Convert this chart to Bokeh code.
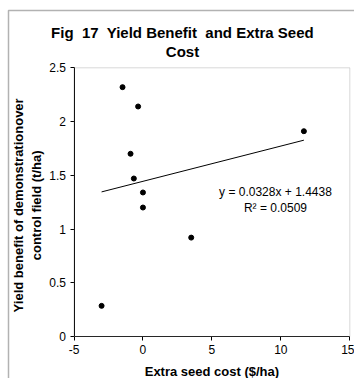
from bokeh.plotting import figure
from bokeh.models import Range1d, FixedTicker, Label, BoxAnnotation, LinearAxis
from bokeh.embed import file_html
from bokeh.resources import INLINE

# Extra seed cost ($/ha) versus yield benefit (t/ha) per demonstration site
seed_cost = [-1.48, -0.35, -0.9, -0.66, 0.0, 0.0, 3.5, -3.0, 11.67]
yield_benefit = [2.32, 2.14, 1.70, 1.47, 1.34, 1.20, 0.92, 0.285, 1.91]

# Linear trend line reported on the chart
slope = 0.0328
intercept = 1.4438
r_squared = 0.0509

x_ticks = [-5, 0, 5, 10, 15]
x_tick_labels = ["-5", "0", "5", "10", "15"]
y_ticks = [0, 0.5, 1, 1.5, 2, 2.5]
y_tick_labels = ["0", "0.5", "1", "1.5", "2", "2.5"]

FONT = "Liberation Sans"
W, H = 354, 378
NBSP = "\u00a0"

# The frame covers the whole canvas; the plot area (-5..15, 0..2.5) sits
# inside it with room around for the titles.
px_per_x = 13.79
px_per_y = 107.48
x_start = x_ticks[0] - 73.5 / px_per_x
y_start = y_ticks[0] - (H - 336) / px_per_y
x_range = Range1d(x_start, x_start + W / px_per_x)
y_range = Range1d(y_start, y_start + H / px_per_y)

p = figure(width=W, height=H, output_backend="svg", toolbar_location=None,
           x_range=x_range, y_range=y_range, min_border=0,
           x_axis_location=None, y_axis_location=None)
p.background_fill_color = "white"
p.border_fill_color = "white"
p.outline_line_color = None
p.xgrid.visible = False
p.ygrid.visible = False

xaxis = LinearAxis(fixed_location=y_ticks[0], bounds=(x_ticks[0], x_ticks[-1]))
yaxis = LinearAxis(fixed_location=x_ticks[0], bounds=(y_ticks[0], y_ticks[-1]))
for ax, ticks, labels in ((xaxis, x_ticks, x_tick_labels),
                          (yaxis, y_ticks, y_tick_labels)):
    ax.ticker = FixedTicker(ticks=ticks)
    ax.major_label_overrides = {t: s for t, s in zip(ticks, labels)}
    ax.minor_tick_line_color = None
    ax.major_tick_out = 4
    ax.major_tick_in = 0
    ax.axis_line_color = "black"
    ax.major_tick_line_color = "black"
    ax.major_label_text_font = FONT
    ax.major_label_text_font_size = "12px"
    ax.major_label_text_color = "black"
    ax.major_label_standoff = 4

# Plot area outline (grey on top and right)
p.add_layout(BoxAnnotation(left=x_ticks[0], right=x_ticks[-1],
                           bottom=y_ticks[0], top=y_ticks[-1],
                           fill_alpha=0, line_color="#808080", line_width=1))
p.add_layout(xaxis, "below")
p.add_layout(yaxis, "left")

# Trend line across the range of the data
x0, x1 = min(seed_cost), max(seed_cost)
p.line([x0, x1], [slope * x0 + intercept, slope * x1 + intercept],
       line_color="black", line_width=1)

p.scatter(seed_cost, yield_benefit, size=5, marker="circle",
          fill_color="black", line_color="black")


def add_text(x, y, text, size, bold=False, angle=0.0):
    p.add_layout(Label(x=x, y=y, text=text, text_font=FONT,
                       text_font_size=size,
                       text_font_style="bold" if bold else "normal",
                       text_align="center", text_baseline="middle",
                       angle=angle, text_color="black"))


# Title (wide gaps kept with no-break spaces)
title_1 = f"Fig{NBSP} 17{NBSP} Yield Benefit{NBSP} and Extra Seed"
add_text(2.87, 2.828, title_1, "15px", bold=True)
add_text(2.87, 2.654, "Cost", "15px", bold=True)

# Axis titles
add_text(5.0, -0.321, "Extra seed cost ($/ha)", "13px", bold=True)
add_text(-9.02, 1.22, "Yield benefit of demonstrationover", "13px", bold=True,
         angle=1.5708)
add_text(-7.72, 1.22, "control field (t/ha)", "13px", bold=True,
         angle=1.5708)

# Trend equation
add_text(9.61, 1.343, f"y = {slope}x + {intercept}", "12px")
add_text(9.61, 1.197, f"R\u00b2 = {r_squared}", "12px")

# Chart area border, running off the right and bottom edges
p.add_layout(BoxAnnotation(left=x_start + 8 / px_per_x, right=x_start + 2 * W / px_per_x,
                           top=y_start + (H - 10) / px_per_y, bottom=y_start - 1,
                           fill_alpha=0, line_color="black", line_width=1.5))

open("out.html", "w").write(file_html(p, INLINE))
